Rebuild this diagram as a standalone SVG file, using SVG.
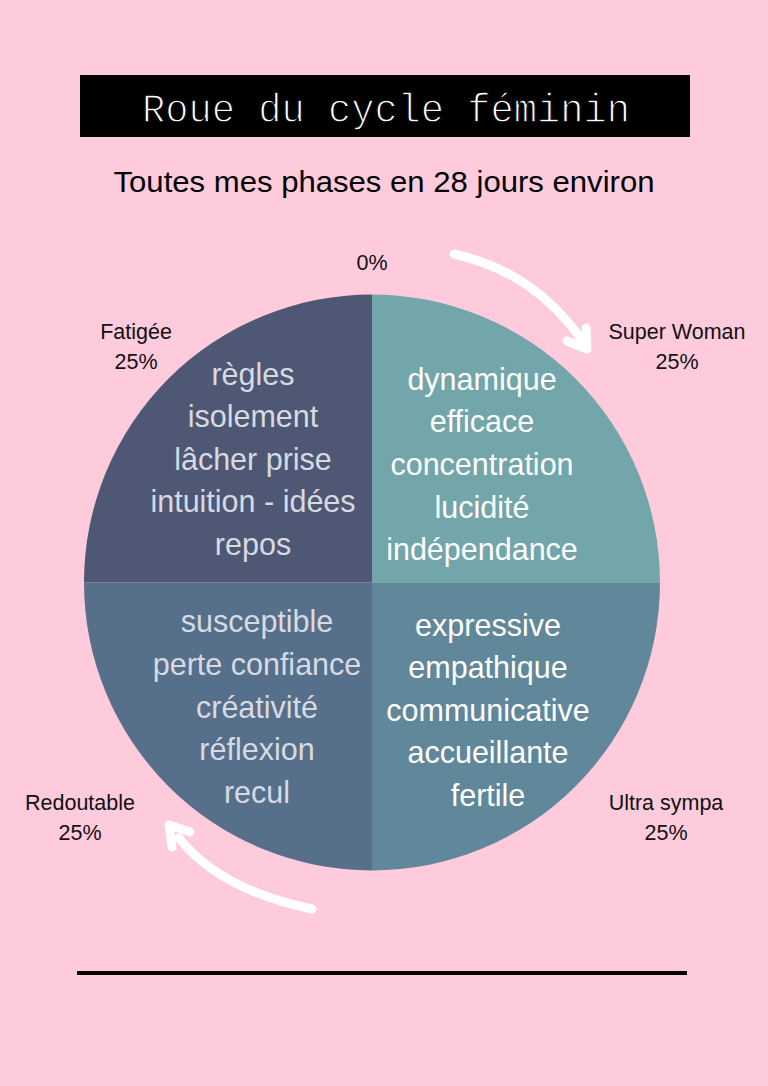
<svg xmlns="http://www.w3.org/2000/svg" width="768" height="1086" viewBox="0 0 768 1086">
<style>
.lbl{font-family:"Liberation Sans",Arial,sans-serif;font-size:21.5px;fill:#111;text-anchor:middle}
.q{font-family:"Liberation Sans",Arial,sans-serif;font-size:30.5px;text-anchor:middle}
.lt{fill:#d8dae2}
.wt{fill:#ffffff}
.arr{fill:none;stroke:#ffffff;stroke-width:9;stroke-linecap:round;stroke-linejoin:round}
</style>
<rect width="768" height="1086" fill="#fecbdc"/>
<g id="title">
<rect x="80" y="75" width="610" height="62" fill="#000"/>
<text x="386" y="122" font-family="'Liberation Mono','Courier New',monospace" font-size="41" fill="#fff" stroke="#000" stroke-width="1.3" text-anchor="middle" textLength="488" lengthAdjust="spacingAndGlyphs">Roue du cycle féminin</text>
</g>
<g id="subtitle">
<text x="384" y="192" font-family="'Liberation Sans',Arial,sans-serif" font-size="30" fill="#000" text-anchor="middle" textLength="541" lengthAdjust="spacingAndGlyphs">Toutes mes phases en 28 jours environ</text>
</g>
<g id="wheel">
<path id="q-tl" d="M372 582.5 L84 582.5 A288 288 0 0 1 372 294.5 Z" fill="#4e5874"/>
<path id="q-tr" d="M372 582.5 L372 294.5 A288 288 0 0 1 660 582.5 Z" fill="#72a6ab"/>
<path id="q-bl" d="M372 582.5 L372 870.5 A288 288 0 0 1 84 582.5 Z" fill="#566f8a"/>
<path id="q-br" d="M372 582.5 L660 582.5 A288 288 0 0 1 372 870.5 Z" fill="#61889a"/>
</g>
<g id="text-tl" class="q lt">
<text x="253" y="385">règles</text>
<text x="253" y="427">isolement</text>
<text x="253" y="470">lâcher prise</text>
<text x="253" y="512">intuition - idées</text>
<text x="253" y="555">repos</text>
</g>
<g id="text-tr" class="q wt">
<text x="482" y="390">dynamique</text>
<text x="482" y="432">efficace</text>
<text x="482" y="475">concentration</text>
<text x="482" y="518">lucidité</text>
<text x="482" y="560">indépendance</text>
</g>
<g id="text-bl" class="q lt">
<text x="257" y="632">susceptible</text>
<text x="257" y="675">perte confiance</text>
<text x="257" y="718">créativité</text>
<text x="257" y="760">réflexion</text>
<text x="257" y="803">recul</text>
</g>
<g id="text-br" class="q wt">
<text x="488" y="636">expressive</text>
<text x="488" y="678">empathique</text>
<text x="488" y="721">communicative</text>
<text x="488" y="763">accueillante</text>
<text x="488" y="806">fertile</text>
</g>
<g id="label-0">
<text class="lbl" x="372" y="270">0%</text>
</g>
<g id="label-fatigee">
<text class="lbl" x="136" y="339">Fatigée</text>
<text class="lbl" x="136" y="369">25%</text>
</g>
<g id="label-superwoman">
<text class="lbl" x="677" y="339">Super Woman</text>
<text class="lbl" x="677" y="369">25%</text>
</g>
<g id="label-redoutable">
<text class="lbl" x="80" y="810">Redoutable</text>
<text class="lbl" x="80" y="840">25%</text>
</g>
<g id="label-ultrasympa">
<text class="lbl" x="666" y="810">Ultra sympa</text>
<text class="lbl" x="666" y="840">25%</text>
</g>
<g id="connectors">
<path class="arr" d="M454 254 Q535 272 583 342"/>
<path class="arr" d="M567 341 L587 349 L586 328"/>
<path class="arr" d="M312 909 Q220 890 179 838"/>
<path class="arr" d="M190 832 L169 825 L172 847"/>
</g>
<line id="rule" x1="77" y1="973" x2="687" y2="973" stroke="#000" stroke-width="4"/>
</svg>
